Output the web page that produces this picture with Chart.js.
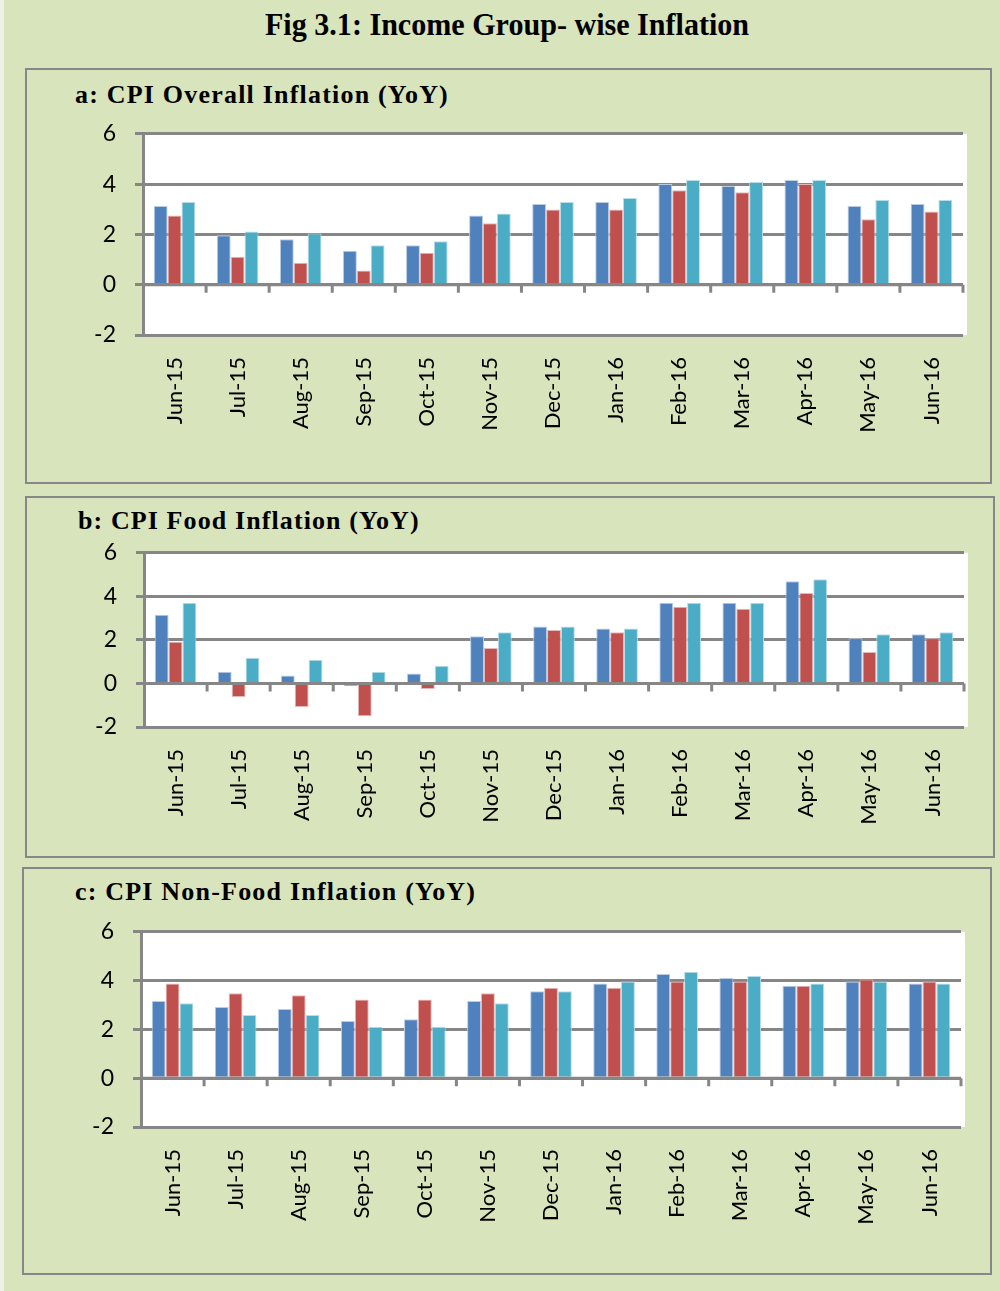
<!DOCTYPE html>
<html>
<head>
<meta charset="utf-8">
<script src="https://cdn.jsdelivr.net/npm/chart.js@4"></script>
<style>
  html, body { margin:0; padding:0; background:#eef2e6; }
  #page { position:absolute; left:4px; top:0; width:996px; height:1291px; background:#d8e4bc; overflow:hidden; }
  .title { position:absolute; font-family:'Liberation Serif', 'Times New Roman', serif; font-weight:bold; color:#000; white-space:nowrap; transform-origin:left center; }
  .panel { position:absolute; border:2px solid #878787; box-sizing:border-box; }
  canvas { position:absolute; }
</style>
</head>
<body>
<div id="page">
  <div class="title" id="mainTitle" style="left:261px; top:6px; font-size:32px; line-height:36px; transform:scaleX(0.94);">Fig 3.1: Income Group- wise Inflation</div>

  <div class="panel" style="left:21px; top:68px; width:967px; height:416px;"></div>
  <div class="title" style="left:71px; top:78px; font-size:26px; line-height:34px; letter-spacing:1.2px;">a: CPI Overall Inflation (YoY)</div>
  <canvas id="c1" width="950" height="344" style="left:24px; top:101px;"></canvas>

  <div class="panel" style="left:21px; top:496px; width:970px; height:362px;"></div>
  <div class="title" style="left:74px; top:504px; font-size:26px; line-height:34px; letter-spacing:1.1px;">b: CPI Food Inflation (YoY)</div>
  <canvas id="c2" width="950" height="307" style="left:24px; top:520px;"></canvas>

  <div class="panel" style="left:18px; top:867px; width:970px; height:408px;"></div>
  <div class="title" style="left:71px; top:875px; font-size:26px; line-height:34px; letter-spacing:1.2px;">c: CPI Non-Food Inflation (YoY)</div>
  <canvas id="c3" width="950" height="343" style="left:24px; top:899px;"></canvas>
</div>
<script>
// ---------- data ----------
const categories = ['Jun-15','Jul-15','Aug-15','Sep-15','Oct-15','Nov-15','Dec-15','Jan-16','Feb-16','Mar-16','Apr-16','May-16','Jun-16'];
const yTicks = [-2, 0, 2, 4, 6];

// a: CPI Overall Inflation (YoY)
const overallGroup1 = [3.13, 1.97, 1.81, 1.35, 1.57, 2.75, 3.21, 3.29, 4.00, 3.92, 4.16, 3.13, 3.21];
const overallGroup2 = [2.75, 1.11, 0.87, 0.56, 1.27, 2.44, 2.99, 2.99, 3.76, 3.68, 4.00, 2.60, 2.91];
const overallGroup3 = [3.29, 2.12, 2.04, 1.57, 1.73, 2.83, 3.29, 3.45, 4.16, 4.08, 4.16, 3.37, 3.37];

// b: CPI Food Inflation (YoY)
const foodGroup1 = [3.15, 0.54, 0.37, -0.12, 0.46, 2.17, 2.61, 2.52, 3.71, 3.71, 4.69, 2.08, 2.26];
const foodGroup2 = [1.92, -0.62, -1.08, -1.51, -0.25, 1.63, 2.45, 2.35, 3.52, 3.43, 4.15, 1.44, 2.08];
const foodGroup3 = [3.71, 1.18, 1.09, 0.54, 0.81, 2.35, 2.61, 2.52, 3.71, 3.71, 4.78, 2.26, 2.35];

// c: CPI Non-Food Inflation (YoY)
const nonFoodGroup1 = [3.16, 2.92, 2.84, 2.34, 2.42, 3.16, 3.56, 3.88, 4.27, 4.11, 3.79, 3.96, 3.88];
const nonFoodGroup2 = [3.88, 3.48, 3.40, 3.23, 3.23, 3.48, 3.71, 3.71, 3.96, 3.96, 3.79, 4.04, 3.96];
const nonFoodGroup3 = [3.07, 2.59, 2.59, 2.11, 2.11, 3.07, 3.56, 3.96, 4.36, 4.19, 3.88, 3.96, 3.88];

// ---------- styling ----------
const GREY = '#868686';
const COLORS = ['#4f81bd', '#c0504d', '#4bacc6'];
const EDGES = ['#b9cde5', '#e6b9b8', '#b7dee8'];
const LABEL_FONT = "'Lato', 'Open Sans', sans-serif";

const excelPlugin = {
  id: 'excelLook',
  beforeDraw(chart) {
    const { ctx, chartArea: a } = chart;
    ctx.save();
    ctx.fillStyle = '#ffffff';
    ctx.fillRect(a.left, a.top, a.right - a.left + 4, a.bottom - a.top);
    ctx.restore();
  },
  afterDatasetsDraw(chart) {
    const { ctx } = chart;
    const x = chart.scales.x, y = chart.scales.y;
    const y0 = y.getPixelForValue(0);
    const step = x.getPixelForValue(1) - x.getPixelForValue(0);
    ctx.save();
    ctx.strokeStyle = GREY;
    ctx.lineWidth = 3;
    ctx.beginPath();
    ctx.moveTo(x.left, y0);
    ctx.lineTo(x.right, y0);
    for (let i = 0; i < categories.length; i++) {
      const bx = x.getPixelForValue(i) + step / 2;
      ctx.moveTo(bx, y0);
      ctx.lineTo(bx, y0 + 8);
    }
    ctx.stroke();
    ctx.restore();
  }
};

function makeChart(id, series, opts) {
  const datasets = series.map((d, i) => ({
    label: 'Group ' + (i + 1),
    data: d,
    backgroundColor: COLORS[i],
    borderColor: EDGES[i],
    borderWidth: 1,
    categoryPercentage: 0.66,
    barPercentage: 1.0
  }));
  return new Chart(document.getElementById(id), {
    type: 'bar',
    data: { labels: categories, datasets },
    plugins: [excelPlugin],
    options: {
      responsive: false,
      animation: false,
      layout: { padding: { top: opts.padTop, right: opts.padRight, left: 0, bottom: 0 } },
      plugins: { legend: { display: false }, tooltip: { enabled: false }, title: { display: false } },
      scales: {
        x: {
          grid: { display: false },
          border: { display: false },
          ticks: {
            color: '#000',
            font: { family: LABEL_FONT, size: 22 },
            minRotation: 90, maxRotation: 90,
            autoSkip: false,
            padding: opts.xPad
          },
          afterFit(scale) { scale.height = opts.xHeight; }
        },
        y: {
          min: yTicks[0], max: yTicks[yTicks.length - 1],
          afterBuildTicks(scale) { scale.ticks = yTicks.map(v => ({ value: v })); },
          grid: { color: GREY, lineWidth: 3, tickLength: 8, drawTicks: true, tickColor: GREY },
          border: { display: true, color: GREY, width: 3 },
          ticks: { color: '#000', font: { family: LABEL_FONT, size: 23 }, padding: 19 },
          afterFit(scale) { scale.width = opts.yWidth; }
        }
      }
    }
  });
}

makeChart('c1', [overallGroup1, overallGroup2, overallGroup3], { padTop: 10, padRight: 15, xHeight: 110, yWidth: 115, xPad: 14 });
makeChart('c2', [foodGroup1, foodGroup2, foodGroup3], { padTop: 10, padRight: 14, xHeight: 100, yWidth: 116, xPad: 14 });
makeChart('c3', [nonFoodGroup1, nonFoodGroup2, nonFoodGroup3], { padTop: 10, padRight: 17, xHeight: 115, yWidth: 113, xPad: 14 });
</script>
</body>
</html>
